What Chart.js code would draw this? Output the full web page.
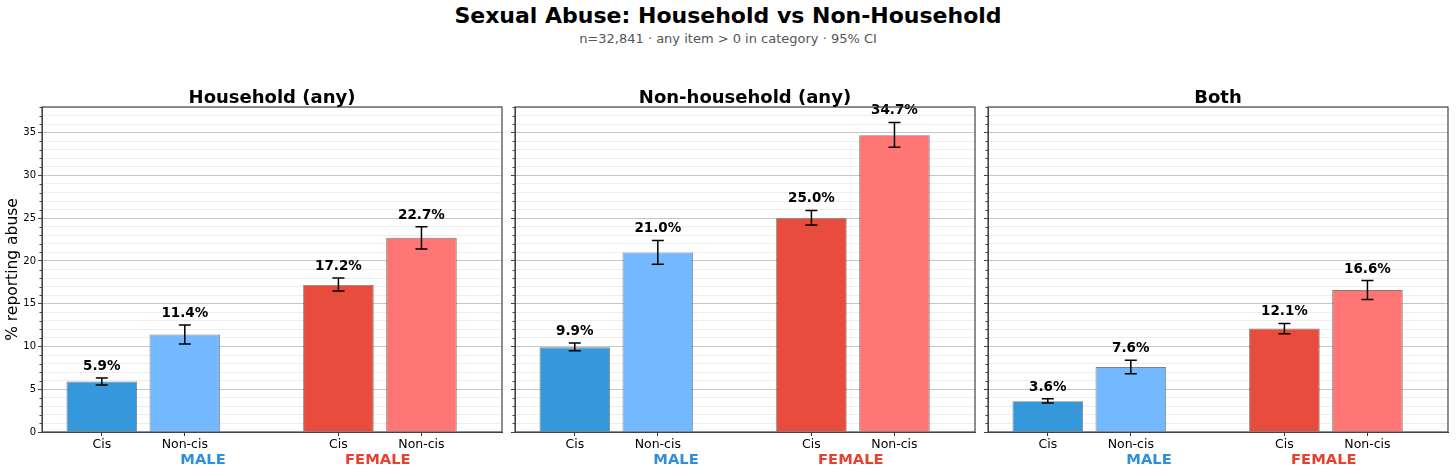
<!DOCTYPE html>
<html>
<head>
<meta charset="utf-8">
<script src="https://cdn.jsdelivr.net/npm/chart.js@4.4.1/dist/chart.umd.min.js"></script>
<style>
  html, body { margin: 0; padding: 0; background: #fff; }
  body { width: 1456px; height: 474px; position: relative; overflow: hidden; font-family: "DejaVu Sans", sans-serif; }
  #title { position: absolute; top: 3px; left: 0; width: 1456px; text-align: center; font-weight: bold; font-size: 22px; color: #000; }
  #subtitle { position: absolute; top: 31px; left: 0; width: 1456px; text-align: center; font-size: 13px; color: #555; }
  .panel { position: absolute; top: 80px; width: 510px; height: 394px; }
</style>
</head>
<body>
<div id="title">Sexual Abuse: Household vs Non-Household</div>
<div id="subtitle">n=32,841 · any item &gt; 0 in category · 95% CI</div>
<div class="panel" style="left:0px"><canvas id="p0"></canvas></div>
<div class="panel" style="left:473px"><canvas id="p1"></canvas></div>
<div class="panel" style="left:946px"><canvas id="p2"></canvas></div>

<script>
// bar layout: male cis, male non-cis, (gap), female cis, female non-cis
const barLabels = ["Cis", "Non-cis", "Cis", "Non-cis"]
const barPositions = [0, 1, 2.85, 3.85]
const barColors = ["#3498db", "#74b9ff", "#e74c3c", "#ff7675"]

const panelTitles = ["Household (any)", "Non-household (any)", "Both"]

// % reporting abuse + 95% CI bounds
const household = [5.9, 11.4, 17.2, 22.7]
const householdLo = [5.5, 10.3, 16.5, 21.4]
const householdHi = [6.3, 12.5, 18.0, 24.0]

const nonHousehold = [9.9, 21.0, 25.0, 34.7]
const nonHouseholdLo = [9.5, 19.6, 24.2, 33.3]
const nonHouseholdHi = [10.4, 22.4, 25.9, 36.2]

const both = [3.6, 7.6, 12.1, 16.6]
const bothLo = [3.4, 6.8, 11.5, 15.5]
const bothHi = [3.9, 8.4, 12.7, 17.7]

const groups = [
  { label: "MALE", color: "#2e8fdc", frac: 0.35 },
  { label: "FEMALE", color: "#e8402f", frac: 0.73 },
]

const yMax = 38
const FONT = "'DejaVu Sans', sans-serif"

// error bars, value labels, frame, minor ticks, panel title, group labels
const decorPlugin = {
  id: "decor",
  afterDatasetsDraw(chart, args, opts) {
    const { ctx, chartArea } = chart
    const x = chart.scales.x, y = chart.scales.y
    ctx.save()
    ctx.strokeStyle = "#000"
    ctx.lineWidth = 1.5
    opts.values.forEach((v, i) => {
      const px = x.getPixelForValue(barPositions[i])
      const top = y.getPixelForValue(opts.hi[i])
      const bot = y.getPixelForValue(opts.lo[i])
      ctx.beginPath()
      ctx.moveTo(px, top); ctx.lineTo(px, bot)
      ctx.moveTo(px - 6, top); ctx.lineTo(px + 6, top)
      ctx.moveTo(px - 6, bot); ctx.lineTo(px + 6, bot)
      ctx.stroke()
      ctx.fillStyle = "#000"
      ctx.font = "bold 13.5px " + FONT
      ctx.textAlign = "center"
      ctx.textBaseline = "alphabetic"
      ctx.fillText(v.toFixed(1) + "%", px, top - 8)
    })
    // minor y ticks (shorter)
    ctx.strokeStyle = "#444"
    ctx.lineWidth = 1
    ctx.beginPath()
    y.ticks.forEach(t => {
      if (t.value % 5 === 0) return
      const py = Math.round(y.getPixelForValue(t.value)) + 0.5
      ctx.moveTo(chartArea.left - 2.5, py); ctx.lineTo(chartArea.left, py)
    })
    ctx.stroke()
    // frame all four sides
    ctx.strokeStyle = "#444"
    ctx.lineWidth = 1.2
    ctx.strokeRect(chartArea.left, chartArea.top, chartArea.right - chartArea.left, chartArea.bottom - chartArea.top)
    // panel title
    const cx = (chartArea.left + chartArea.right) / 2
    ctx.fillStyle = "#000"
    ctx.font = "bold 18px " + FONT
    ctx.textBaseline = "middle"
    ctx.fillText(opts.title, cx, chartArea.top - 9)
    // MALE / FEMALE
    ctx.font = "bold 14.7px " + FONT
    groups.forEach(g => {
      ctx.fillStyle = g.color
      ctx.fillText(g.label, chartArea.left + g.frac * (chartArea.right - chartArea.left), chartArea.bottom + 28)
    })
    ctx.restore()
  },
}

function makePanel(id, idx, values, lo, hi) {
  const showLabels = idx === 0
  return new Chart(document.getElementById(id), {
    type: "bar",
    data: {
      datasets: [{
        data: values.map((v, i) => ({ x: barPositions[i], y: v })),
        backgroundColor: barColors,
        borderColor: "rgba(0,0,0,0.5)",
        borderWidth: 0.9,
        categoryPercentage: 1,
        barPercentage: 0.85,
      }],
    },
    options: {
      responsive: true,
      maintainAspectRatio: false,
      animation: false,
      layout: { padding: { top: 27, right: 8, left: 0, bottom: 0 } },
      plugins: {
        legend: { display: false },
        tooltip: { enabled: false },
        decor: { values, lo, hi, title: panelTitles[idx] },
      },
      scales: {
        x: {
          type: "linear",
          min: -0.72,
          max: 4.82,
          offset: false,
          afterBuildTicks: (scale) => { scale.ticks = barPositions.map(v => ({ value: v })) },
          afterFit: (scale) => { scale.height = 42 },
          grid: { display: true, drawOnChartArea: false, tickLength: 4, color: "#333", offset: false },
          border: { display: true, color: "#444" },
          ticks: {
            autoSkip: false,
            maxRotation: 0,
            padding: 1,
            color: "#000",
            font: { family: FONT, size: 12.5 },
            callback: (val, i) => barLabels[i],
          },
        },
        y: {
          min: 0,
          max: yMax,
          afterFit: (scale) => { scale.width = 42 },
          title: {
            display: showLabels,
            text: "% reporting abuse",
            color: "#000",
            font: { family: FONT, size: 15.5 },
            padding: { top: 4, bottom: 0 },
          },
          grid: {
            color: (c) => c.tick && c.tick.value % 5 === 0 ? "#c6c6c6" : "#eeeeee",
            tickColor: (c) => c.tick && c.tick.value % 5 === 0 ? "#444" : "rgba(0,0,0,0)",
            lineWidth: 1,
            tickLength: 4,
          },
          border: { display: true, color: "#444" },
          ticks: {
            stepSize: 1,
            autoSkip: false,
            padding: 2,
            color: "#000",
            font: { family: FONT, size: 10 },
            callback: (v) => showLabels && v % 5 === 0 ? v : "",
          },
        },
      },
    },
    plugins: [decorPlugin],
  })
}

makePanel("p0", 0, household, householdLo, householdHi)
makePanel("p1", 1, nonHousehold, nonHouseholdLo, nonHouseholdHi)
makePanel("p2", 2, both, bothLo, bothHi)
</script>
</body>
</html>
